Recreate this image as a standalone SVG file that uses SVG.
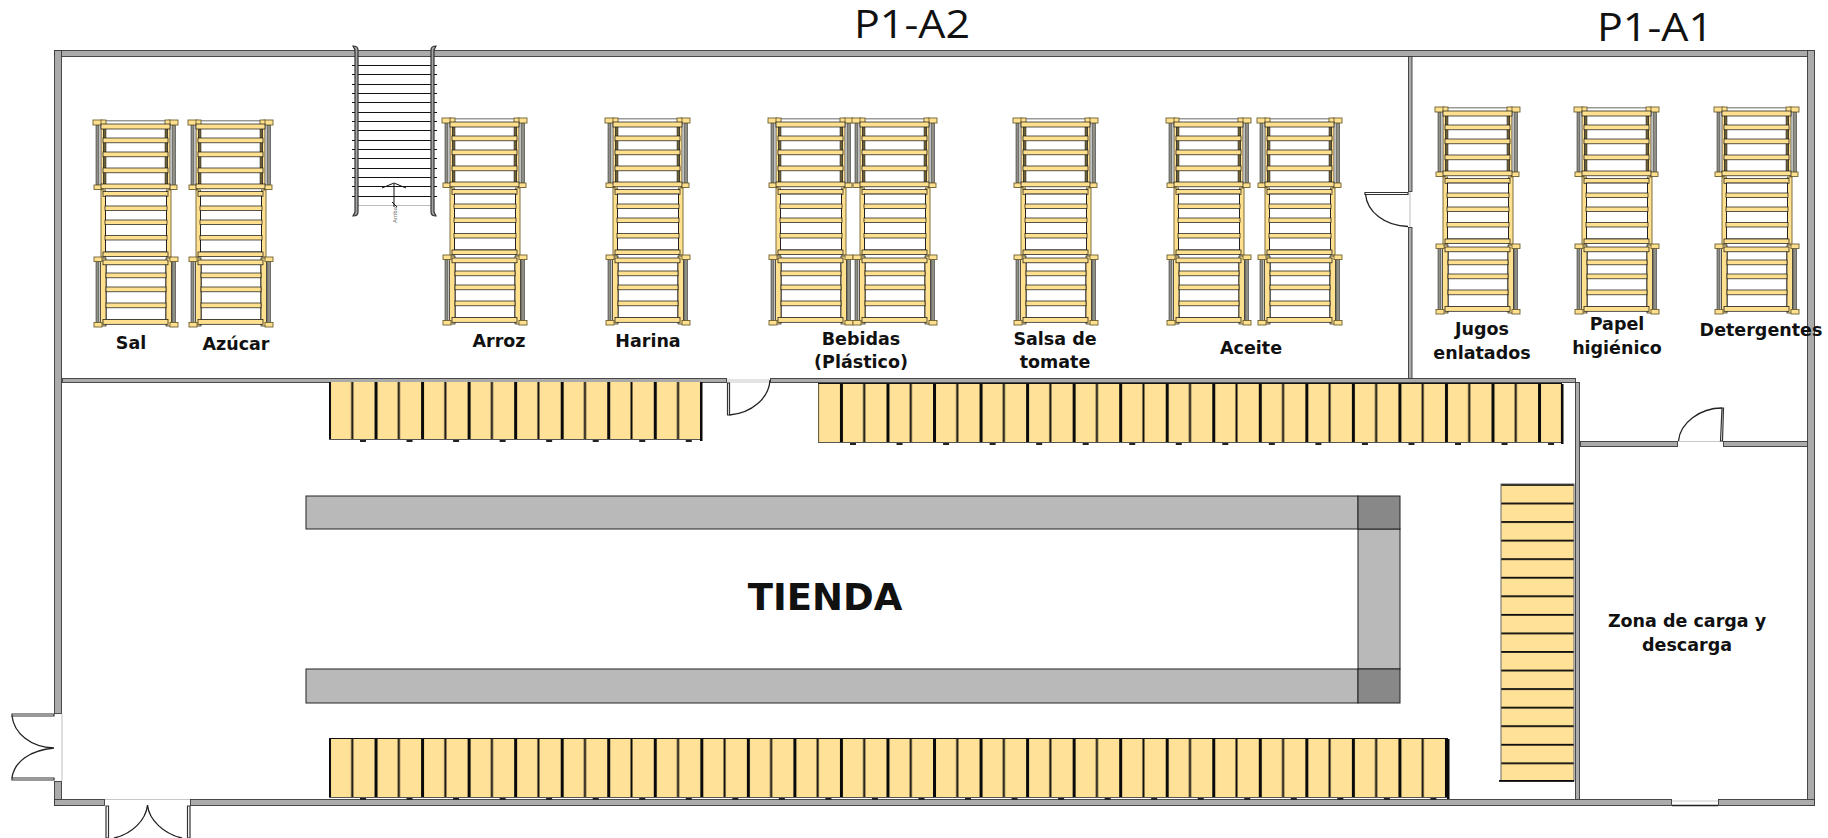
<svg xmlns="http://www.w3.org/2000/svg" width="1828" height="838" viewBox="0 0 1828 838">
<style>
.w{fill:#ababab;stroke:#3a3a3a;stroke-width:.9}
.y{fill:#ffe08f;stroke:#111;stroke-width:.7}
.u{fill:#ffe08f;stroke:#6e5f30;stroke-width:.9}
.d{fill:#6f6238;stroke:#222;stroke-width:.5}
.s{fill:#ffe08f;stroke:#333;stroke-width:.8}
.g{fill:#8f8f86;stroke:#333;stroke-width:.6}
.door{fill:none;stroke:#222;stroke-width:1.3}
.leaf{fill:#fff;stroke:#333;stroke-width:1.2}
.sill{fill:none;stroke:#c8c8c8;stroke-width:1.2}
.t{font-family:"DejaVu Sans",sans-serif;font-weight:700;font-size:17.5px;fill:#111;text-anchor:middle}
.h{font-family:"Open Sans","Noto Sans",sans-serif;font-size:38px;fill:#111;text-anchor:middle}
.shelf{fill:#b9b9b9;stroke:#222;stroke-width:1}
.corner{fill:#888;stroke:#222;stroke-width:1}
.tread{stroke:#111;stroke-width:1.2}
.nub{stroke:#222;stroke-width:2;stroke-dasharray:6 40.54;fill:none}
</style>
<defs>
<pattern id="palH" patternUnits="userSpaceOnUse" x="328" y="0" width="46.54" height="100">
<rect width="46.54" height="100" fill="#ffe298"/><rect width="3" height="100" fill="#0a0a0a"/><rect x="23.27" width="2" height="100" fill="#0a0a0a"/>
</pattern>
<pattern id="palV" patternUnits="userSpaceOnUse" x="0" y="484" width="100" height="18.56">
<rect width="100" height="18.56" fill="#ffe298"/><rect width="100" height="1.800" fill="#0a0a0a"/>
</pattern>
<g id="rack">
<rect class="g" x="3" y="5" width="3" height="60"/><rect class="g" x="79" y="5" width="3.500" height="60"/>
<rect x="10" y="0" width="65" height="1.500" fill="#999"/>
<rect class="s" x="8" y="4" width="2.500" height="62"/><rect class="s" x="74.500" y="4" width="2.500" height="62"/>
<rect class="d" x="10.500" y="4" width="2.500" height="62"/><rect class="d" x="72" y="4" width="2.500" height="62"/>
<rect class="u" x="0" y="0" width="9" height="5"/><rect class="u" x="76" y="0" width="9" height="5"/>
<rect class="u" x="8" y="0" width="5" height="5"/><rect class="u" x="72" y="0" width="5" height="5"/>
<rect class="u" x="1" y="65" width="9" height="4.500"/><rect class="u" x="76" y="65" width="8" height="4.500"/>
<rect class="y" x="8" y="4" width="69" height="5"/>
<rect class="y" x="10" y="18" width="65" height="4.800"/><rect class="y" x="10" y="32" width="65" height="4.800"/><rect class="y" x="10" y="48" width="65" height="4.800"/>
<rect class="y" x="8" y="64" width="69" height="4.800"/>
<rect class="u" x="8" y="70" width="4.500" height="67"/><rect class="u" x="73.500" y="70" width="4.500" height="67"/>
<rect class="y" x="10" y="71.500" width="65" height="4.800"/>
<rect x="12.500" y="76" width="61" height="56" fill="#fff" stroke="#222" stroke-width="1"/>
<rect class="y" x="12" y="86" width="62" height="4.500"/><rect class="y" x="12" y="100" width="62" height="4.500"/><rect class="y" x="12" y="115.500" width="62" height="4.500"/>
<rect class="y" x="10" y="132" width="65" height="4.500"/>
<rect class="g" x="3" y="141" width="3" height="62"/><rect class="g" x="79" y="141" width="3.500" height="62"/>
<rect x="13" y="144" width="60" height="56" fill="#fff" stroke="#111" stroke-width="1"/>
<rect class="y" x="7.500" y="138" width="5.500" height="68"/><rect class="y" x="73" y="138" width="5.500" height="68"/>
<rect class="u" x="1" y="137" width="8" height="4.500"/><rect class="u" x="77" y="137" width="8" height="4.500"/>
<rect class="u" x="1" y="202.500" width="8" height="4.500"/><rect class="u" x="77" y="202.500" width="8" height="4.500"/>
<rect class="y" x="10" y="140" width="65" height="4.800"/>
<rect class="y" x="13" y="153" width="60" height="4.800"/><rect class="y" x="13" y="167" width="60" height="4.800"/><rect class="y" x="13" y="183" width="60" height="4.800"/>
<rect class="y" x="10" y="199.500" width="65" height="4.800"/>
</g>
</defs>
<rect width="1828" height="838" fill="#fff"/>

<g id="walls">
<rect class="w" x="54.500" y="50.500" width="1760" height="6"/>
<rect class="w" x="1807.500" y="50.500" width="7" height="755"/>
<rect class="w" x="54.500" y="50.500" width="7" height="663"/>
<rect class="w" x="54.500" y="781.500" width="7" height="24"/>
<rect class="w" x="54.500" y="799.500" width="50" height="6"/>
<rect class="w" x="190.500" y="799.500" width="1481" height="6"/>
<rect class="w" x="1718.500" y="799.500" width="96" height="6"/>
<rect class="w" x="62.500" y="378.500" width="664" height="4"/>
<rect class="w" x="770.500" y="378.500" width="805" height="4"/>
<rect class="w" x="1408.500" y="56.500" width="3.500" height="135"/>
<rect class="w" x="1408.500" y="227.500" width="3.500" height="151"/>
<rect class="w" x="1575.500" y="382.500" width="4" height="417"/>
<rect class="w" x="1580.500" y="441.500" width="97" height="5"/>
<rect class="w" x="1723.500" y="441.500" width="84" height="5"/>
</g>

<g id="doors">
<path class="sill" d="M62 714V781M105 799.500H190M727 380H770M727 382H770M1410 192V227M1678 441.500H1723M1672 801H1718"/>
<path class="door" d="M1672 805.500H1718"/>
<path class="leaf" d="M54 714H12V716H54ZM54 780H12V778H54Z"/>
<path class="door" d="M12 716C14 733 30 747 54 748M12 778C14 762 30 750 54 748"/>
<path class="leaf" d="M106 806H108.500V838H106ZM187.500 806H190V838H187.500Z"/>
<path class="door" d="M147.500 805C146 820 132 834 114 838M147.500 805C149 820 164 834 182 838"/>
<path class="leaf" d="M727.500 383H729.500V415H727.500Z"/>
<path class="door" d="M729.500 415C752 413 769 398 770 380"/>
<path class="leaf" d="M1365 192.500H1408V194.500H1365Z"/>
<path class="door" d="M1365.500 194C1367 212 1385 226 1408 226.500"/>
<path class="leaf" d="M1722 408H1723.500L1722.500 441H1720.500Z"/>
<path class="door" d="M1722 408C1700 408 1680 423 1678.500 441"/>
</g>

<g id="stairs">
<path class="tread" d="M352 65.500H437M352 74.500H437M352 84.500H437M352 93.500H437M352 102.500H437M352 112.500H437M352 121.500H437M352 130.500H437M352 140.500H437M352 149.500H437M352 158.500H437M352 168.500H437M352 177.500H437M352 186.500H437M352 196.500H437"/>
<path d="M358 205.500H431" stroke="#bbb" stroke-width="1.200"/>
<path class="leaf" style="fill:#a5a5a5" d="M353 46C356 46 358 47 358 50V212C358 215 356 216 353 216L355 212V50ZM436 46C433 46 431 47 431 50V212C431 215 433 216 436 216L434 212V50Z"/>
<path d="M394 207V184M382 188L394 183L406 188M392 202L397 207" fill="none" stroke="#111" stroke-width="1"/>
<text x="397" y="223" transform="rotate(-90 397 223)" font-family="Liberation Sans,sans-serif" font-size="6" fill="#666">Arriba</text>
</g>

<g id="racks">
<use id="rack-sal" href="#rack" x="93" y="120"/>
<use id="rack-azucar" href="#rack" x="188" y="120"/>
<use id="rack-arroz" href="#rack" x="442" y="118"/>
<use id="rack-harina" href="#rack" x="605" y="118"/>
<use id="rack-bebidas1" href="#rack" x="768" y="118"/>
<use id="rack-bebidas2" href="#rack" x="852" y="118"/>
<use id="rack-salsa" href="#rack" x="1013" y="118"/>
<use id="rack-aceite1" href="#rack" x="1166" y="118"/>
<use id="rack-aceite2" href="#rack" x="1257" y="118"/>
<use id="rack-jugos" href="#rack" x="1435" y="107"/>
<use id="rack-papel" href="#rack" x="1574" y="107"/>
<use id="rack-detergentes" href="#rack" x="1714" y="107"/>
</g>

<g id="pallets">
<rect x="329" y="382" width="372" height="58" fill="url(#palH)"/>
<rect x="329" y="439" width="372" height="1" fill="#555"/>
<rect x="700" y="382" width="2.500" height="59" fill="#0a0a0a"/>
<path class="nub" d="M360 441H700"/>
<rect x="818" y="384" width="744" height="59" fill="url(#palH)"/>
<rect x="818" y="383" width="744" height="1" fill="#111"/>
<rect x="818" y="442" width="744" height="1" fill="#555"/>
<rect x="1561" y="384" width="2.500" height="60" fill="#0a0a0a"/>
<path class="nub" d="M850 444H1560"/>
<rect x="329" y="739" width="1119" height="59" fill="url(#palH)"/>
<rect x="329" y="738" width="1119" height="1" fill="#111"/>
<rect x="329" y="797" width="1119" height="1" fill="#555"/>
<rect x="1447" y="739" width="2.500" height="60" fill="#0a0a0a"/>
<path class="nub" d="M360 799H1445"/>
<rect x="1501" y="484" width="73" height="297" fill="url(#palV)" stroke="#666" stroke-width="1"/>
<rect x="1499" y="780" width="75" height="1.800" fill="#0a0a0a"/>
</g>

<g id="shelving">
<rect class="shelf" x="306" y="496" width="1052" height="33"/>
<rect class="shelf" x="306" y="669" width="1052" height="34"/>
<rect class="shelf" x="1358" y="529" width="42" height="140"/>
<rect class="corner" x="1358" y="496" width="42" height="33"/>
<rect class="corner" x="1358" y="669" width="42" height="34"/>
</g>

<g id="labels">
<text class="h" x="912" y="38" textLength="116" lengthAdjust="spacingAndGlyphs">P1-A2</text>
<text class="h" x="1655" y="41" textLength="116" lengthAdjust="spacingAndGlyphs">P1-A1</text>
<text class="t" x="825" y="610" style="font-size:37px">TIENDA</text>
<text class="t" x="131" y="349">Sal</text>
<text class="t" x="236" y="350">Azúcar</text>
<text class="t" x="499" y="347">Arroz</text>
<text class="t" x="648" y="347">Harina</text>
<text class="t" x="861" y="345">Bebidas</text>
<text class="t" x="861" y="368">(Plástico)</text>
<text class="t" x="1055" y="345">Salsa de</text>
<text class="t" x="1055" y="368">tomate</text>
<text class="t" x="1251" y="354">Aceite</text>
<text class="t" x="1482" y="335">Jugos</text>
<text class="t" x="1482" y="359">enlatados</text>
<text class="t" x="1617" y="330">Papel</text>
<text class="t" x="1617" y="354">higiénico</text>
<text class="t" x="1761" y="336">Detergentes</text>
<text class="t" x="1687" y="627">Zona de carga y</text>
<text class="t" x="1687" y="651">descarga</text>
</g>
</svg>
